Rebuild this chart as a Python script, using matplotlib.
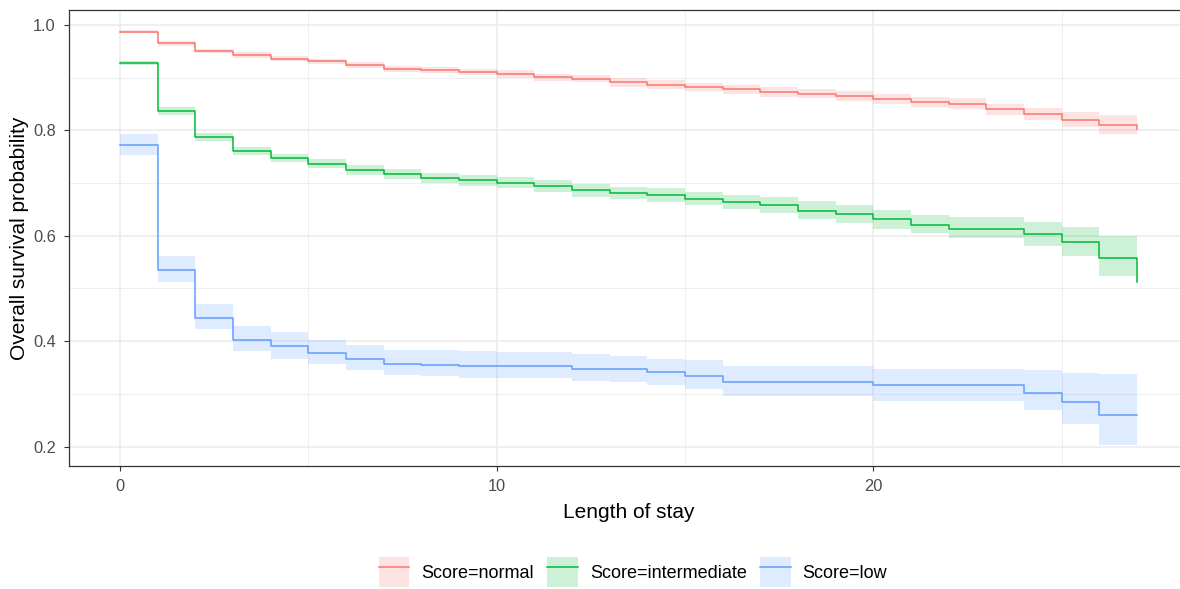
import numpy as np
import matplotlib
matplotlib.use("Agg")
import matplotlib.pyplot as plt
from matplotlib.patches import Patch
from matplotlib.lines import Line2D
from matplotlib.legend_handler import HandlerTuple

plt.rcParams["font.family"] = ["Liberation Sans", "DejaVu Sans"]

# survival curves, one value per day (step starts at that day)
days = list(range(28))

normal_surv = [0.987, 0.965, 0.950, 0.943, 0.936, 0.931, 0.924, 0.917, 0.915, 0.911,
               0.907, 0.901, 0.898, 0.891, 0.887, 0.882, 0.878, 0.873, 0.870, 0.865,
               0.860, 0.854, 0.851, 0.840, 0.831, 0.820, 0.811, 0.803]
normal_lo = [0.984, 0.961, 0.946, 0.938, 0.931, 0.926, 0.918, 0.911, 0.909, 0.905,
             0.900, 0.894, 0.891, 0.883, 0.879, 0.874, 0.870, 0.864, 0.861, 0.856,
             0.851, 0.844, 0.841, 0.829, 0.819, 0.806, 0.794, 0.794]
normal_hi = [0.990, 0.969, 0.954, 0.948, 0.941, 0.936, 0.930, 0.923, 0.921, 0.917,
             0.914, 0.908, 0.905, 0.899, 0.895, 0.890, 0.886, 0.882, 0.879, 0.874,
             0.869, 0.864, 0.861, 0.851, 0.843, 0.834, 0.829, 0.829]

inter_surv = [0.928, 0.837, 0.787, 0.761, 0.748, 0.736, 0.725, 0.717, 0.710, 0.705,
              0.701, 0.695, 0.686, 0.681, 0.677, 0.670, 0.664, 0.658, 0.647, 0.641,
              0.631, 0.620, 0.613, 0.613, 0.603, 0.589, 0.558, 0.513]
inter_lo = [0.925, 0.830, 0.779, 0.754, 0.740, 0.728, 0.716, 0.708, 0.701, 0.695,
            0.691, 0.684, 0.674, 0.669, 0.664, 0.658, 0.650, 0.643, 0.632, 0.625,
            0.612, 0.605, 0.595, 0.595, 0.581, 0.562, 0.524, 0.524]
inter_hi = [0.931, 0.845, 0.795, 0.769, 0.756, 0.745, 0.734, 0.726, 0.720, 0.715,
            0.711, 0.706, 0.698, 0.693, 0.690, 0.684, 0.678, 0.673, 0.666, 0.658,
            0.648, 0.639, 0.636, 0.636, 0.626, 0.617, 0.600, 0.600]

low_surv = [0.772, 0.535, 0.443, 0.402, 0.391, 0.377, 0.366, 0.357, 0.354, 0.352,
            0.352, 0.352, 0.347, 0.347, 0.341, 0.333, 0.322, 0.322, 0.322, 0.322,
            0.316, 0.316, 0.316, 0.316, 0.302, 0.285, 0.260, 0.260]
low_lo = [0.754, 0.512, 0.423, 0.381, 0.367, 0.356, 0.345, 0.336, 0.334, 0.331,
          0.330, 0.330, 0.325, 0.322, 0.317, 0.310, 0.295, 0.295, 0.295, 0.295,
          0.287, 0.287, 0.287, 0.287, 0.269, 0.242, 0.203, 0.203]
low_hi = [0.794, 0.562, 0.471, 0.428, 0.417, 0.403, 0.392, 0.383, 0.383, 0.381,
          0.380, 0.380, 0.375, 0.372, 0.367, 0.364, 0.352, 0.352, 0.352, 0.352,
          0.347, 0.347, 0.347, 0.347, 0.345, 0.339, 0.337, 0.337]

labels = ["Score=normal", "Score=intermediate", "Score=low"]
colors = ["#F8766D", "#00BA38", "#619CFF"]

fig = plt.figure(figsize=(11.8, 5.89), dpi=100)
# panel runs a bit past the right edge of the picture, like the original export
ax = fig.add_axes([0.0585, 0.2088, 0.9483, 0.7742])

series = [(normal_surv, normal_lo, normal_hi),
          (inter_surv, inter_lo, inter_hi),
          (low_surv, low_lo, low_hi)]

handles = []
for (surv, lo, hi), col, lab in zip(series, colors, labels):
    ax.fill_between(days, lo, hi, step="post", color=col, alpha=0.2, lw=0, zorder=2)
    ax.step(days, surv, where="post", color=col, lw=1.1, zorder=3)
    handles.append((Patch(facecolor=col, alpha=0.2, edgecolor="none"),
                    Line2D([], [], color=col, lw=1.1)))

ax.set_xlim(-1.35, 28.35)
ax.set_ylim(0.163, 1.0285)
ax.set_xticks([0, 10, 20])
ax.set_xticks([5, 15, 25], minor=True)
ax.set_yticks([0.2, 0.4, 0.6, 0.8, 1.0])
ax.set_yticklabels(["0.2", "0.4", "0.6", "0.8", "1.0"])
ax.set_yticks([0.3, 0.5, 0.7, 0.9], minor=True)

ax.grid(True, which="major", color="#EBEBEB", lw=1.1, zorder=0)
ax.grid(True, which="minor", color="#EBEBEB", lw=0.55, zorder=0)
ax.set_axisbelow(True)
for sp in ax.spines.values():
    sp.set_color("#333333")
    sp.set_linewidth(0.9)
ax.tick_params(which="major", length=3.5, width=0.8, color="#333333",
               labelcolor="#4D4D4D", labelsize=11.8, pad=6)
ax.tick_params(which="minor", length=0)

ax.set_xlabel("Length of stay", fontsize=15, labelpad=6)
ax.set_ylabel("Overall survival probability", fontsize=15, labelpad=3)

fig.legend(handles, labels, handler_map={tuple: HandlerTuple(ndivide=1, pad=0)},
           loc="center", bbox_to_anchor=(0.5364, 0.029), ncol=3, frameon=False,
           fontsize=13, handlelength=1.7, handleheight=2.2, handletextpad=0.65,
           columnspacing=0.75)

fig.savefig("out.png", dpi=100)
